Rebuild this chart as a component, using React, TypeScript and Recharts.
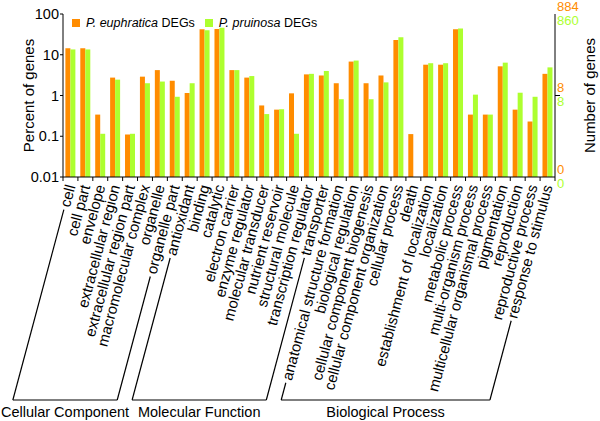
import React from 'react'
import { BarChart, Bar, XAxis, YAxis, Legend } from 'recharts'

// GO categories, in the order they sit on the x axis
const categories = [
  'cell', 'cell part', 'envelope', 'extracellular region', 'extracellular region part',
  'macromolecular complex', 'organelle', 'organelle part',
  'antioxidant', 'binding', 'catalytic', 'electron carrier', 'enzyme regulator',
  'molecular transducer', 'nutrient reservoir', 'structural molecule',
  'transcription regulator', 'transporter',
  'anatomical structure formation', 'biological regulation', 'cellular component biogenesis',
  'cellular component organization', 'cellular process', 'death',
  'establishment of localization', 'localization', 'metabolic process',
  'multi-organism process', 'multicellular organismal process', 'pigmentation',
  'reproduction', 'reproductive process', 'response to stimulus',
]

// percent of genes
const euphratica = [
  14.5, 14.5, 0.34, 2.75, 0.11, 2.9, 4.2, 2.3,
  1.15, 42, 43, 4.2, 2.75, 0.57, 0.45, 1.13, 3.3, 3.1,
  2.0, 6.8, 2.0, 3.1, 23, 0.113, 5.7, 5.7, 42, 0.34, 0.34, 5.2, 0.45, 0.23, 3.4,
]
const pruinosa = [
  13.5, 13.5, 0.115, 2.45, 0.115, 2.0, 2.2, 0.93,
  2.0, 40, 46, 4.2, 3.0, 0.35, 0.46, 0.115, 3.4, 4.0,
  0.81, 7.2, 0.81, 2.1, 27, null, 6.2, 6.2, 44, 1.05, 0.34, 6.4, 1.17, 0.93, 4.9,
]

const groups = [
  { name: 'Cellular Component', first: 0, last: 7 },
  { name: 'Molecular Function', first: 8, last: 17 },
  { name: 'Biological Process', first: 18, last: 32 },
]

const percentTicks = [0.01, 0.1, 1, 10, 100]
const countTicks = [0.01, 1, 100]
const euphraticaCounts = ['0', '8', '884']
const pruinosaCounts = ['0', '8', '860']

const data = categories.map((name, i) => ({
  name,
  euphratica: euphratica[i],
  pruinosa: pruinosa[i],
}))

const ORANGE = '#FF8C00'
const GREEN = '#ADFF2F'
const FONT = '"Liberation Sans", Arial, sans-serif'

const W = 600
const H = 421
const TOP = 14
const BOTTOM = 177
const LEFT_W = 63
const RIGHT_W = 45
const BAND = (W - LEFT_W - RIGHT_W) / categories.length
const ANGLE = 75
const LABEL_GAP = 8
const LABEL_SIZE = 15
const BRACKET_Y = 400

const ctx = typeof document !== 'undefined' ? document.createElement('canvas').getContext('2d') : null
function textWidth(s: string, size: number) {
  if (!ctx) return s.length * size * 0.5
  ctx.font = `${size}px "Liberation Sans"`
  return ctx.measureText(s).width
}

function CategoryTick(props: any) {
  const { x, payload, index } = props
  const rad = (ANGLE * Math.PI) / 180
  const y0 = BOTTOM + LABEL_GAP
  const label = String(payload.value)
  const last = index === categories.length - 1
  const els: React.ReactNode[] = []

  els.push(<line key="t" x1={x - BAND / 2} x2={x - BAND / 2} y1={BOTTOM} y2={BOTTOM + 4} stroke="#000" />)
  if (last) {
    els.push(<line key="t2" x1={x + BAND / 2} x2={x + BAND / 2} y1={BOTTOM} y2={BOTTOM + 4} stroke="#000" />)
  }
  els.push(
    <text
      key="l"
      x={x}
      y={y0}
      dy="0.35em"
      textAnchor="end"
      fontSize={LABEL_SIZE}
      fill="#000"
      transform={`rotate(-${ANGLE} ${x} ${y0})`}
    >
      {label}
    </text>
  )

  const g = groups.find((gr) => gr.first === index || gr.last === index)
  if (g) {
    const len = textWidth(label, LABEL_SIZE) + 3
    const sx = x - len * Math.cos(rad)
    const sy = y0 + len * Math.sin(rad)
    const bx = x - (BRACKET_Y - y0) / Math.tan(rad)
    els.push(<line key="b" x1={sx} y1={sy} x2={bx} y2={BRACKET_Y} stroke="#000" strokeWidth={1.2} />)
    if (g.last === index) {
      const fx = bx - (g.last - g.first) * BAND
      els.push(<line key="h" x1={fx} y1={BRACKET_Y} x2={bx} y2={BRACKET_Y} stroke="#000" strokeWidth={1.2} />)
      els.push(
        <text key="g" x={(fx + bx) / 2} y={BRACKET_Y + 17} textAnchor="middle" fontSize={14.5} fill="#000">
          {g.name}
        </text>
      )
    }
  }
  return <g>{els}</g>
}

function TopTick(props: any) {
  const { x, index } = props
  return (
    <g>
      <line x1={x - BAND / 2} x2={x - BAND / 2} y1={TOP} y2={TOP + 3} stroke="#000" />
      {index === categories.length - 1 && (
        <line x1={x + BAND / 2} x2={x + BAND / 2} y1={TOP} y2={TOP + 3} stroke="#000" />
      )}
    </g>
  )
}

function CountTick(props: any) {
  const { y, payload } = props
  const i = countTicks.indexOf(payload.value)
  const x = W - RIGHT_W
  return (
    <g>
      {payload.value === 1 && <line x1={x} x2={x + 5} y1={y} y2={y} stroke="#000" />}
      <text x={x + 2} y={y - 8} dy="0.35em" fontSize={13} fill={ORANGE}>{euphraticaCounts[i]}</text>
      <text x={x + 2} y={y + 6} dy="0.35em" fontSize={13} fill={GREEN}>{pruinosaCounts[i]}</text>
    </g>
  )
}

function LegendContent(props: any) {
  const { payload = [] } = props
  return (
    <div style={{ display: 'flex', alignItems: 'center', fontSize: 12.5, fontFamily: FONT, color: '#000' }}>
      {payload.map((p: any) => {
        const species = String(p.value).replace(' DEGs', '')
        return (
          <div key={p.value} style={{ display: 'flex', alignItems: 'center', marginRight: 10 }}>
            <span style={{ width: 8, height: 8, background: p.color, display: 'inline-block', marginRight: 6 }} />
            <span><i>{species}</i> DEGs</span>
          </div>
        )
      })}
    </div>
  )
}

export default function App() {
  return (
    <div style={{ width: W, height: H, fontFamily: FONT }}>
      <style>{'body{margin:0}'}</style>
      <BarChart
        width={W}
        height={H}
        data={data}
        margin={{ top: TOP, right: 0, bottom: 0, left: 0 }}
        barCategoryGap="16%"
        barGap={0}
        style={{ fontFamily: FONT }}
      >
        <XAxis
          dataKey="name"
          interval={0}
          height={H - BOTTOM}
          axisLine={{ stroke: '#000' }}
          tickLine={false}
          tick={<CategoryTick />}
        />
        <XAxis
          xAxisId="top"
          dataKey="name"
          orientation="top"
          interval={0}
          height={0}
          axisLine={{ stroke: '#000' }}
          tickLine={false}
          tick={<TopTick />}
        />
        <YAxis
          scale="log"
          type="number"
          domain={[0.01, 100]}
          allowDataOverflow
          ticks={percentTicks}
          width={LEFT_W}
          axisLine={{ stroke: '#000' }}
          tickLine={{ stroke: '#000' }}
          tickSize={3}
          tickMargin={1}
          tick={{ fill: '#000', fontSize: 14.5 }}
          label={{
            content: () => (
              <text x={28} y={(TOP + BOTTOM) / 2} textAnchor="middle" dominantBaseline="central" fontSize={15} fill="#000" transform={`rotate(-90 28 ${(TOP + BOTTOM) / 2})`}>
                Percent of genes
              </text>
            ),
          }}
        />
        <YAxis
          yAxisId="right"
          orientation="right"
          scale="log"
          type="number"
          domain={[0.01, 100]}
          allowDataOverflow
          ticks={countTicks}
          width={RIGHT_W}
          axisLine={{ stroke: '#000' }}
          tickLine={false}
          tick={<CountTick />}
          label={{
            content: () => (
              <text x={589} y={(TOP + BOTTOM) / 2} textAnchor="middle" dominantBaseline="central" fontSize={15} fill="#000" transform={`rotate(-90 589 ${(TOP + BOTTOM) / 2})`}>
                Number of genes
              </text>
            ),
          }}
        />
        <Legend
          verticalAlign="middle"
          layout="horizontal"
          wrapperStyle={{ top: 16, left: 72, width: 'auto', height: 'auto' }}
          content={<LegendContent />}
        />
        <Bar dataKey="euphratica" name="P. euphratica DEGs" fill={ORANGE} isAnimationActive={false} />
        <Bar dataKey="pruinosa" name="P. pruinosa DEGs" fill={GREEN} isAnimationActive={false} />
      </BarChart>
    </div>
  )
}
